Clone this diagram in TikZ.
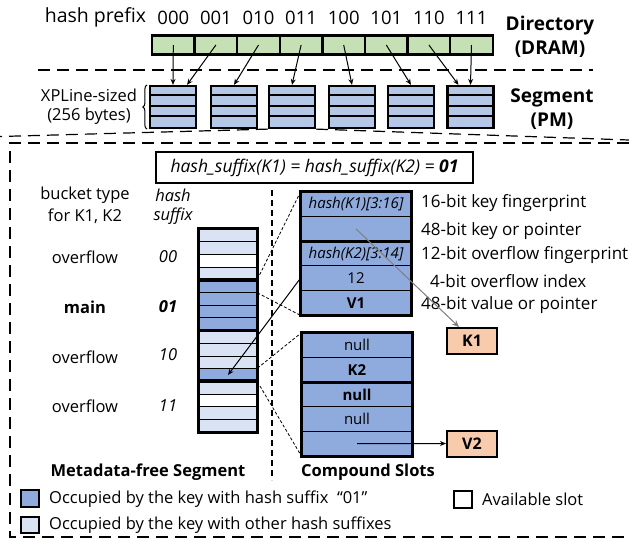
\documentclass[tikz,border=0pt]{standalone}
\usepackage{fontspec}
\setmainfont{Open Sans}
\usetikzlibrary{decorations.pathreplacing,arrows.meta,calc}
\definecolor{dirgreen}{HTML}{C5E0B4}
\definecolor{segblue}{HTML}{B4C7E7}
\definecolor{midblue}{HTML}{8FAADC}
\definecolor{lightblue}{HTML}{DAE3F3}
\definecolor{orangebox}{HTML}{F8CBAD}
\begin{document}
\begin{tikzpicture}[x=1pt,y=-1pt,font=\fontsize{16.5}{19}\selectfont,
  txt/.style={inner sep=0pt,anchor=center},
  lbl/.style={inner sep=0pt,anchor=west},
  bold/.style={font=\fontsize{16.5}{19}\selectfont\bfseries},
  topfont/.style={font=\fontsize{18.5}{21}\selectfont},
  topbold/.style={font=\fontsize{19}{22}\selectfont\bfseries},
  dircell/.style={draw,line width=2.4pt,fill=dirgreen,minimum width=42.6pt,minimum height=19pt,inner sep=0pt},
  segbox/.style={draw,line width=2.2pt,fill=segblue,minimum width=46pt,minimum height=42pt,inner sep=0pt},
  arr/.style={-{Stealth[length=6pt,width=5pt]},line width=1pt},
  bigdash/.style={line width=1.5pt,dash pattern=on 12pt off 7pt},
  zoomdash/.style={line width=0.8pt,dash pattern=on 3pt off 2pt},
  slotrow/.style={draw,line width=0.8pt,minimum width=58pt,minimum height=12.69pt,inner sep=0pt},
  cslot/.style={draw,line width=0.8pt,fill=midblue,minimum width=110pt,minimum height=24.6pt,inner sep=0pt,font=\fontsize{15}{17}\selectfont},
  valbox/.style={draw,line width=2pt,fill=orangebox,minimum width=50pt,minimum height=26pt,inner sep=0pt,font=\fontsize{16}{18}\selectfont\bfseries},
  annot/.style={inner sep=0pt,anchor=west,font=\fontsize{17}{19}\selectfont},
  legbox/.style={draw,line width=2pt,minimum width=18pt,minimum height=17pt,inner sep=0pt}]
\useasboundingbox (0,0) rectangle (629,539);

% ---------- directory ----------
\node[txt,topfont,font=\fontsize{19.5}{22}\selectfont] (hp) at (95.5,17) {hash prefix};
\foreach \i/\lab in {0/000,1/001,2/010,3/011,4/100,5/101,6/110,7/111} {
  \node[dircell] (d\i) at ({173.3+42.6*\i},45) {};
  \node[txt,topfont] (p\i) at ({173.3+42.6*\i},18) {\lab};
}
\node[txt,topbold] (dir1) at (550,26) {Directory};
\node[txt,topbold] (dir2) at (550,49) {(DRAM)};

\coordinate (dl1) at (38,70);
\coordinate (dl2) at (593,70);
\draw[bigdash] (dl1) -- (dl2);

% ---------- segments ----------
\foreach \i/\x in {1/173,2/234,3/292,4/352,5/411,6/470.5} {
  \node[segbox] (s\i) at (\x,107) {};
  \foreach \k in {1,2,3}
    \draw[line width=2pt] ($(s\i.north west)+(0,10.5*\k)$) -- ($(s\i.north east)+(0,10.5*\k)$);
}
\draw[arr] (d0.center) -- (s1.north);
\draw[arr] (d1.center) -- ($(s1.north)+(14,0)$);
\draw[arr] (d2.center) -- (s2.north);
\draw[arr] (d3.center) -- (s3.north);
\draw[arr] (d4.center) -- (s4.north);
\draw[arr] (d5.center) -- (s5.north);
\draw[arr] (d6.center) -- ($(s6.north)+(-12,0)$);
\draw[arr] (d7.center) -- (s6.north);

\draw[decorate,decoration={brace,amplitude=4pt},line width=1pt]
  ($(s1.south west)+(-2,0)$) -- ($(s1.north west)+(-2,0)$);
\node[txt] (xp1) at (89,95) {XPLine-sized};
\node[txt] (xp2) at (89,116) {(256 bytes)};
\node[txt,topbold] (sg1) at (552,98) {Segment};
\node[txt,topbold] (sg2) at (552,121) {(PM)};

% ---------- zoom box ----------
\coordinate (zl) at (0,136.5);
\coordinate (zr) at (629,140);
\draw[bigdash,line width=1.2pt] (s3.south west) -- (zl);
\draw[bigdash,line width=1.2pt] (s3.south east) -- (zr);
\coordinate (bx1) at (629,143);
\coordinate (bx2) at (10,143);
\coordinate (bx3) at (10,537);
\coordinate (bx4) at (629,537);
\draw[bigdash] (bx1) -- (bx2) -- (bx3) -- (bx4);

\node[draw,line width=1.5pt,minimum width=317pt,minimum height=31pt,inner sep=0pt,font=\fontsize{17.5}{20}\selectfont] (hs) at (314.5,167.5)
  {\itshape hash\_suffix(K1) = hash\_suffix(K2) = \textbf{01}};

\node[txt] (bt1) at (85,195) {bucket type};
\node[txt] (bt2) at (85,216) {for K1, K2};
\node[txt] (hx1) at (173,195) {\itshape hash};
\node[txt] (hx2) at (173,216) {\itshape suffix};
\node[txt] (o1) at (85,257) {overflow};
\node[txt] (x1) at (168,257) {\itshape 00};
\node[txt,bold] (o2) at (85,307) {main};
\node[txt] (x2) at (168,307) {\bfseries\itshape 01};
\node[txt] (o3) at (85,357) {overflow};
\node[txt] (x3) at (168,355) {\itshape 10};
\node[txt] (o4) at (85,406) {overflow};
\node[txt] (x4) at (168,406) {\itshape 11};

% metadata-free segment
\foreach \i/\c in {0/lightblue,1/lightblue,2/white,3/lightblue,
                   4/midblue,5/midblue,6/midblue,7/midblue,
                   8/lightblue,9/lightblue,10/lightblue,11/midblue,
                   12/lightblue,13/white,14/lightblue,15/lightblue}
  \node[slotrow,fill=\c] (r\i) at (228,{229+12.69*(\i+0.5)}) {};
\foreach \a/\b in {0/3,4/7,8/11,12/15}
  \draw[line width=3pt] (r\a.north west) rectangle (r\b.south east);

% middle divider
\coordinate (vd1) at (272,190);
\coordinate (vd2) at (272,480);
\draw[line width=1.5pt,dash pattern=on 6pt off 4pt] (vd1) -- (vd2);

% compound slots 1
\node[cslot] (k1) at (356,{192+24.6*0.5}) {\itshape hash(K1)[3:16]};
\node[cslot] (k2) at (356,{192+24.6*1.5}) {};
\node[cslot] (k3) at (356,{192+24.6*2.5}) {\itshape hash(K2)[3:14]};
\node[cslot] (k4) at (356,{192+24.6*3.5}) {12};
\node[cslot] (k5) at (356,{192+24.6*4.5}) {\bfseries V1};
\draw[line width=2.5pt] (k1.north west) rectangle (k5.south east);
\draw[line width=3pt] (k2.south west) -- (k2.south east);

% compound slots 2
\node[cslot] (m1) at (357,{333+24.6*0.5}) {null};
\node[cslot] (m2) at (357,{333+24.6*1.5}) {\bfseries K2};
\node[cslot] (m3) at (357,{333+24.6*2.5}) {\bfseries null};
\node[cslot] (m4) at (357,{333+24.6*3.5}) {null};
\node[cslot] (m5) at (357,{333+24.6*4.5}) {};
\draw[line width=2.5pt] (m1.north west) rectangle (m5.south east);
\draw[line width=3pt] (m2.south west) -- (m2.south east);

% zoom lines
\draw[zoomdash] (r4.north east) -- (k1.north west);
\draw[zoomdash] (r4.south east) -- (k5.south west);
\draw[zoomdash] (r11.north east) -- (m1.north west);
\draw[zoomdash] (r11.south east) -- (m5.south west);

% annotations
\node[annot] (an1) at (421,203) {16-bit key fingerprint};
\node[annot] (an2) at (421,231) {48-bit key or pointer};
\node[annot] (an3) at (421,255) {12-bit overflow fingerprint};
\node[annot] (an4) at (430,281) {4-bit overflow index};
\node[annot] (an5) at (421,305) {48-bit value or pointer};

\node[valbox] (K1) at (472,341) {K1};
\node[valbox] (V2) at (472,443.5) {V2};

\draw[-{Stealth[length=7pt,width=6pt]},draw=gray,fill=gray,line width=1pt] (k2.center) -- ($(K1.north west)+(13,0)$);
\draw[arr] (m5.center) -- (V2.west);
\draw[arr] (k4.west) -- (r11.center);

\node[txt,bold] (mfs) at (148,472) {Metadata-free Segment};
\node[txt,bold] (cs) at (368,472) {Compound Slots};

% legend
\node[legbox,fill=midblue] (lg1) at (30,498) {};
\node[lbl] (lt1) at (49,499) {Occupied by the key with hash suffix\ \ “01"};
\node[legbox,fill=lightblue,minimum height=16pt] (lg2) at (30,525) {};
\node[lbl] (lt2) at (49,525) {Occupied by the key with other hash suffixes};
\node[legbox,fill=white] (lg3) at (463,499) {};
\node[lbl] (lt3) at (482,499) {Available slot};
\end{tikzpicture}
\end{document}
